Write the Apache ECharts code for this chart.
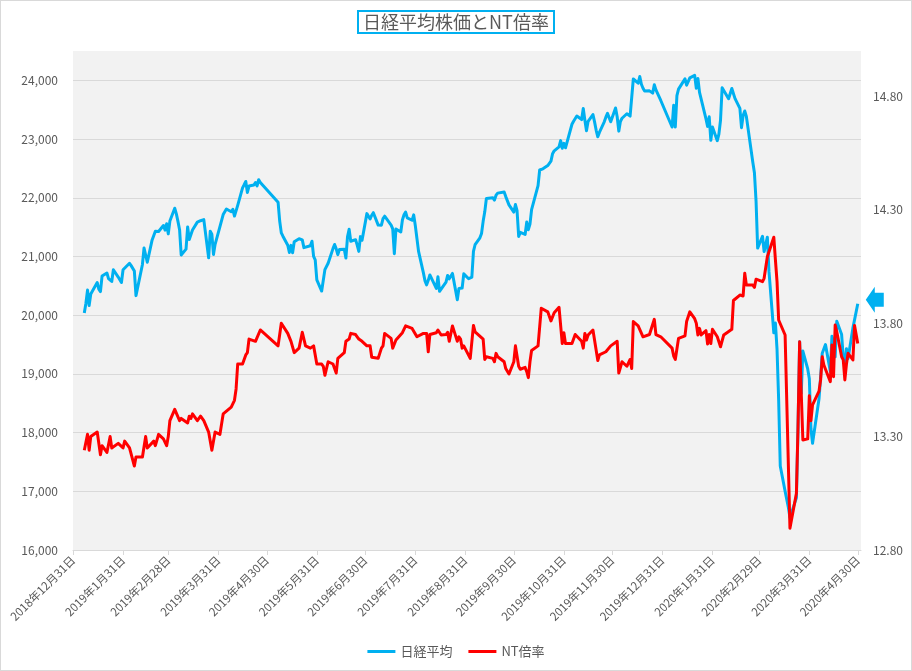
<!DOCTYPE html>
<html><head><meta charset="utf-8">
<script src="https://cdn.jsdelivr.net/npm/echarts@6/dist/echarts.min.js"></script>
<style>
html,body{margin:0;padding:0;background:#fff}
#c{width:912px;height:671px}
#frame{position:absolute;left:0;top:0;width:912px;height:671px;box-sizing:border-box;border:1px solid #d9d9d9;pointer-events:none}
</style>
</head><body><div id="c"></div><div id="frame"></div>
<script>
// ---- tick labels (month ends) ----
const tickDates = ['2018-12-31','2019-01-31','2019-02-28','2019-03-31','2019-04-30','2019-05-31','2019-06-30','2019-07-31','2019-08-31','2019-09-30','2019-10-31','2019-11-30','2019-12-31','2020-01-31','2020-02-29','2020-03-31','2020-04-30'];

// ---- 日経平均 ----
const nkDates = [
'2019-01-07','2019-01-08','2019-01-09','2019-01-10','2019-01-11','2019-01-15','2019-01-16','2019-01-17','2019-01-18','2019-01-21','2019-01-22','2019-01-23','2019-01-24','2019-01-25','2019-01-28','2019-01-29','2019-01-30','2019-01-31',
'2019-02-01','2019-02-04','2019-02-05','2019-02-06','2019-02-07','2019-02-08','2019-02-12','2019-02-13','2019-02-14','2019-02-15','2019-02-18','2019-02-19','2019-02-20','2019-02-21','2019-02-22','2019-02-25','2019-02-26','2019-02-27','2019-02-28',
'2019-03-01','2019-03-04','2019-03-05','2019-03-06','2019-03-07','2019-03-08','2019-03-11','2019-03-12','2019-03-13','2019-03-14','2019-03-15','2019-03-18','2019-03-19','2019-03-20','2019-03-22','2019-03-25','2019-03-26','2019-03-27','2019-03-28','2019-03-29',
'2019-04-01','2019-04-02','2019-04-03','2019-04-04','2019-04-05','2019-04-08','2019-04-09','2019-04-10','2019-04-11','2019-04-12','2019-04-15','2019-04-16','2019-04-17','2019-04-18','2019-04-19','2019-04-22','2019-04-23','2019-04-24','2019-04-25','2019-04-26',
'2019-05-07','2019-05-08','2019-05-09','2019-05-10','2019-05-13','2019-05-14','2019-05-15','2019-05-16','2019-05-17','2019-05-20','2019-05-21','2019-05-22','2019-05-23','2019-05-24','2019-05-27','2019-05-28','2019-05-29','2019-05-30','2019-05-31',
'2019-06-03','2019-06-04','2019-06-05','2019-06-06','2019-06-07','2019-06-10','2019-06-11','2019-06-12','2019-06-13','2019-06-14','2019-06-17','2019-06-18','2019-06-19','2019-06-20','2019-06-21','2019-06-24','2019-06-25','2019-06-26','2019-06-27','2019-06-28',
'2019-07-01','2019-07-02','2019-07-03','2019-07-04','2019-07-05','2019-07-08','2019-07-09','2019-07-10','2019-07-11','2019-07-12','2019-07-16','2019-07-17','2019-07-18','2019-07-19','2019-07-22','2019-07-23','2019-07-24','2019-07-25','2019-07-26','2019-07-29','2019-07-30','2019-07-31',
'2019-08-01','2019-08-02','2019-08-05','2019-08-06','2019-08-07','2019-08-08','2019-08-09','2019-08-13','2019-08-14','2019-08-15','2019-08-16','2019-08-19','2019-08-20','2019-08-21','2019-08-22','2019-08-23','2019-08-26','2019-08-27','2019-08-28','2019-08-29','2019-08-30',
'2019-09-02','2019-09-03','2019-09-04','2019-09-05','2019-09-06','2019-09-09','2019-09-10','2019-09-11','2019-09-12','2019-09-13','2019-09-17','2019-09-18','2019-09-19','2019-09-20','2019-09-24','2019-09-25','2019-09-26','2019-09-27','2019-09-30',
'2019-10-01','2019-10-02','2019-10-03','2019-10-04','2019-10-07','2019-10-08','2019-10-09','2019-10-10','2019-10-11','2019-10-15','2019-10-16','2019-10-17','2019-10-18','2019-10-21','2019-10-23','2019-10-24','2019-10-25','2019-10-28','2019-10-29','2019-10-30','2019-10-31',
'2019-11-01','2019-11-05','2019-11-06','2019-11-07','2019-11-08','2019-11-11','2019-11-12','2019-11-13','2019-11-14','2019-11-15','2019-11-18','2019-11-19','2019-11-20','2019-11-21','2019-11-22','2019-11-25','2019-11-26','2019-11-27','2019-11-28','2019-11-29',
'2019-12-02','2019-12-03','2019-12-04','2019-12-05','2019-12-06','2019-12-09','2019-12-10','2019-12-11','2019-12-12','2019-12-13','2019-12-16','2019-12-17','2019-12-18','2019-12-19','2019-12-20','2019-12-23','2019-12-24','2019-12-25','2019-12-26','2019-12-27','2019-12-30',
'2020-01-06','2020-01-07','2020-01-08','2020-01-09','2020-01-10','2020-01-14','2020-01-15','2020-01-16','2020-01-17','2020-01-20','2020-01-21','2020-01-22','2020-01-23','2020-01-24','2020-01-27','2020-01-28','2020-01-29','2020-01-30','2020-01-31',
'2020-02-03','2020-02-04','2020-02-05','2020-02-06','2020-02-07','2020-02-10','2020-02-12','2020-02-13','2020-02-14','2020-02-17','2020-02-18','2020-02-19','2020-02-20','2020-02-21','2020-02-25','2020-02-26','2020-02-27','2020-02-28',
'2020-03-02','2020-03-03','2020-03-04','2020-03-05','2020-03-06','2020-03-09','2020-03-10','2020-03-11','2020-03-12','2020-03-13','2020-03-16','2020-03-17','2020-03-18','2020-03-19','2020-03-23','2020-03-24','2020-03-25','2020-03-26','2020-03-27','2020-03-30','2020-03-31',
'2020-04-01','2020-04-02','2020-04-03','2020-04-06','2020-04-07','2020-04-08','2020-04-09','2020-04-10','2020-04-13','2020-04-14','2020-04-15','2020-04-16','2020-04-17','2020-04-20','2020-04-21','2020-04-22','2020-04-23','2020-04-24','2020-04-27','2020-04-28','2020-04-30'];
const nkValues = [
20039,20204,20427,20164,20360,20555,20443,20402,20666,20719,20623,20594,20575,20774,20649,20665,20557,20773,
20788,20884,20844,20874,20751,20333,20864,21144,21140,20901,21282,21303,21431,21464,21425,21528,21449,21557,21385,
21603,21822,21726,21597,21456,21026,21125,21504,21290,21287,21451,21585,21567,21609,21627,20977,21428,21378,21034,21206,
21509,21505,21713,21725,21808,21762,21803,21688,21711,21871,22169,22222,22278,22090,22200,22218,22260,22201,22308,22259,
21924,21603,21402,21345,21191,21067,21189,21063,21250,21302,21272,21283,21151,21117,21183,21260,21003,20943,20601,
20411,20409,20776,20774,20885,21134,21204,21130,21032,21117,21124,20973,21334,21463,21259,21286,21194,21087,21338,21276,
21730,21754,21638,21702,21746,21534,21565,21533,21644,21686,21535,21469,21046,21467,21417,21621,21710,21757,21658,21617,21709,21522,
21541,21087,20720,20585,20517,20593,20685,20455,20655,20406,20419,20563,20677,20619,20628,20711,20261,20456,20479,20461,20704,
20620,20625,20649,21086,21200,21318,21392,21598,21760,21988,22001,21961,22044,22079,22099,22020,22048,21879,21756,
21885,21779,21342,21410,21375,21588,21456,21552,21799,22207,22473,22452,22493,22549,22625,22751,22800,22867,22974,22843,22927,
22851,23252,23304,23330,23392,23332,23520,23320,23142,23303,23417,23293,23149,23039,23113,23293,23373,23438,23409,23294,
23530,23380,23135,23300,23354,23431,23410,23392,23425,24023,23952,24066,23934,23865,23817,23821,23831,23783,23925,23838,23657,
23205,23576,23205,23740,23851,24025,23917,23933,24041,24084,23865,24031,23795,23827,23344,23216,23379,22978,23205,
22972,23085,23320,23874,23828,23686,23861,23828,23688,23523,23194,23401,23479,23387,22605,22426,21948,21143,
21344,21083,21100,21329,20750,19699,19867,19416,18560,17431,17002,17012,16727,16553,16888,18092,19547,18665,19389,19085,18917,
18065,17819,17820,18576,18950,19353,19346,19499,19043,19639,19550,19290,19897,19669,19281,19138,19429,19262,19783,19771,20194];

// ---- NT倍率 ----
const ntDates = [
'2019-01-07','2019-01-09','2019-01-10','2019-01-11','2019-01-15','2019-01-17','2019-01-18','2019-01-21','2019-01-23','2019-01-24','2019-01-28','2019-01-31',
'2019-02-01','2019-02-04','2019-02-07','2019-02-08','2019-02-12','2019-02-14','2019-02-15','2019-02-19','2019-02-20','2019-02-22','2019-02-25','2019-02-27','2019-02-28',
'2019-03-01','2019-03-04','2019-03-07','2019-03-08','2019-03-12','2019-03-13','2019-03-14','2019-03-15','2019-03-18','2019-03-20','2019-03-22','2019-03-25','2019-03-27','2019-03-29',
'2019-04-01','2019-04-03','2019-04-08','2019-04-10','2019-04-11','2019-04-12','2019-04-15','2019-04-17','2019-04-18','2019-04-19','2019-04-23','2019-04-26',
'2019-05-07','2019-05-09','2019-05-13','2019-05-15','2019-05-17','2019-05-20','2019-05-22','2019-05-24','2019-05-27','2019-05-29','2019-05-31',
'2019-06-03','2019-06-04','2019-06-05','2019-06-07','2019-06-10','2019-06-12','2019-06-13','2019-06-17','2019-06-18','2019-06-20','2019-06-21','2019-06-24','2019-06-26','2019-06-28',
'2019-07-01','2019-07-03','2019-07-04','2019-07-05','2019-07-08','2019-07-09','2019-07-10','2019-07-11','2019-07-12','2019-07-16','2019-07-17','2019-07-19','2019-07-23','2019-07-25','2019-07-29','2019-07-30',
'2019-08-01','2019-08-05','2019-08-07','2019-08-08','2019-08-09','2019-08-13','2019-08-14','2019-08-16','2019-08-19','2019-08-20','2019-08-21','2019-08-23','2019-08-26','2019-08-27','2019-08-28','2019-08-29','2019-08-30',
'2019-09-03','2019-09-05','2019-09-06','2019-09-11','2019-09-12','2019-09-13','2019-09-17','2019-09-18','2019-09-19','2019-09-20','2019-09-24','2019-09-25','2019-09-27','2019-09-30',
'2019-10-01','2019-10-03','2019-10-04','2019-10-07','2019-10-08','2019-10-09','2019-10-10','2019-10-11','2019-10-15','2019-10-17','2019-10-21','2019-10-23','2019-10-25','2019-10-28','2019-10-30','2019-10-31',
'2019-11-01','2019-11-05','2019-11-07','2019-11-11','2019-11-12','2019-11-13','2019-11-14','2019-11-15','2019-11-18','2019-11-21','2019-11-22','2019-11-26','2019-11-29',
'2019-12-03','2019-12-04','2019-12-06','2019-12-09','2019-12-11','2019-12-12','2019-12-13','2019-12-16','2019-12-19','2019-12-23','2019-12-26','2019-12-27','2019-12-30',
'2020-01-06','2020-01-07','2020-01-08','2020-01-10','2020-01-14','2020-01-15','2020-01-17','2020-01-20','2020-01-21','2020-01-22','2020-01-23','2020-01-24','2020-01-27','2020-01-28','2020-01-29','2020-01-30','2020-01-31',
'2020-02-03','2020-02-05','2020-02-07','2020-02-12','2020-02-13','2020-02-17','2020-02-19','2020-02-20','2020-02-21','2020-02-25','2020-02-26','2020-02-27',
'2020-03-02','2020-03-03','2020-03-05','2020-03-09','2020-03-10','2020-03-11','2020-03-12','2020-03-16','2020-03-19','2020-03-23','2020-03-24','2020-03-25','2020-03-26','2020-03-27','2020-03-30','2020-03-31',
'2020-04-01','2020-04-02','2020-04-06','2020-04-07','2020-04-08','2020-04-09','2020-04-13','2020-04-14','2020-04-15','2020-04-16','2020-04-17','2020-04-20','2020-04-21','2020-04-22','2020-04-23','2020-04-24','2020-04-27','2020-04-28','2020-04-30'];
const ntValues = [
13.24,13.31,13.24,13.30,13.32,13.22,13.26,13.23,13.30,13.25,13.27,13.25,
13.28,13.25,13.17,13.21,13.21,13.30,13.25,13.28,13.26,13.31,13.29,13.26,13.30,
13.37,13.42,13.37,13.38,13.36,13.39,13.38,13.40,13.37,13.39,13.37,13.32,13.24,13.32,
13.31,13.40,13.43,13.46,13.51,13.62,13.62,13.66,13.67,13.73,13.72,13.77,
13.70,13.80,13.755,13.72,13.67,13.69,13.76,13.70,13.69,13.70,13.62,
13.62,13.61,13.57,13.63,13.62,13.58,13.645,13.67,13.72,13.73,13.755,13.75,13.73,13.72,
13.70,13.70,13.65,13.655,13.645,13.64,13.69,13.70,13.755,13.733,13.69,13.726,13.758,13.788,13.777,13.777,
13.74,13.755,13.755,13.674,13.75,13.758,13.77,13.748,13.75,13.76,13.72,13.788,13.72,13.74,13.73,13.69,13.70,
13.645,13.79,13.762,13.73,13.64,13.652,13.645,13.63,13.667,13.652,13.63,13.60,13.576,13.63,
13.70,13.61,13.597,13.605,13.586,13.56,13.63,13.68,13.70,13.866,13.85,13.81,13.846,13.87,13.71,13.758,
13.71,13.71,13.75,13.72,13.69,13.755,13.726,13.748,13.77,13.635,13.66,13.674,13.70,
13.72,13.58,13.63,13.61,13.64,13.60,13.807,13.788,13.74,13.75,13.817,13.75,13.74,
13.69,13.655,13.64,13.733,13.744,13.807,13.85,13.82,13.80,13.748,13.777,13.748,13.767,13.708,13.75,13.71,13.773,
13.74,13.696,13.748,13.773,13.90,13.924,13.92,14.02,13.968,13.968,13.958,13.994,
13.983,13.998,14.093,14.179,14.079,13.983,13.814,13.748,12.896,13.05,13.344,13.718,13.49,13.285,13.29,13.48,
13.37,13.44,13.50,13.55,13.652,13.616,13.542,13.704,13.564,13.792,13.762,13.652,13.638,13.55,13.62,13.667,13.638,13.79,13.71];

const FF = "'Noto Sans CJK JP', sans-serif";
function toTs(s){const p=s.split('-').map(Number);return new Date(p[0],p[1]-1,p[2]).getTime();}
const tickTs = tickDates.map(toTs);
const nkData = nkDates.map((d,i)=>[toTs(d), nkValues[i]]);
const ntData = ntDates.map((d,i)=>[toTs(d), ntValues[i]]);
const lastNk = nkData[nkData.length-1];

const chart = echarts.init(document.getElementById('c'), null, {renderer:'canvas'});
chart.setOption({
  animation:false,
  title:{text:'日経平均株価とNT倍率', left:'center', top:11, borderColor:'#00b0f0', borderWidth:2,
    padding:[2,5,2,5], backgroundColor:'#fff',
    textStyle:{fontSize:18, fontWeight:'normal', color:'#595959', fontFamily:FF}},
  legend:{top:640, left:'center', itemWidth:28, itemHeight:3, itemGap:16, icon:'rect',
    textStyle:{fontSize:13, color:'#595959', fontFamily:FF}, data:['日経平均','NT倍率']},
  grid:{left:73, right:51, top:51, bottom:121, show:true, backgroundColor:'#f2f2f2', borderWidth:0},
  xAxis:{type:'value', min:toTs('2018-12-31'), max:toTs('2020-05-02'),
    axisLine:{show:true, onZero:false, lineStyle:{color:'#d9d9d9'}},
    axisTick:{show:true, customValues:tickTs, length:5, lineStyle:{color:'#d9d9d9'}},
    axisLabel:{customValues:tickTs, rotate:45, margin:8, fontSize:11.5, color:'#595959', fontFamily:FF,
      showMinLabel:true, showMaxLabel:true,
      formatter:function(v){const d=new Date(v);return d.getFullYear()+'年'+(d.getMonth()+1)+'月'+d.getDate()+'日';}},
    splitLine:{show:false}},
  yAxis:[
    {type:'value', min:16000, max:24500, interval:1000, position:'left',
     axisLine:{show:false}, axisTick:{show:false},
     axisLabel:{showMaxLabel:false, margin:15, fontSize:12, color:'#595959', fontFamily:FF,
       formatter:function(v){return v.toLocaleString('en-US');}},
     splitLine:{show:true, showMaxLine:false, lineStyle:{color:'#d9d9d9', width:1}}},
    {type:'value', min:12.8, max:15.0, interval:0.5, position:'right',
     axisLine:{show:false}, axisTick:{show:false},
     axisLabel:{showMaxLabel:false, margin:12, fontSize:12, color:'#595959', fontFamily:FF,
       formatter:function(v){return v.toFixed(2);}},
     splitLine:{show:false}}
  ],
  series:[
    {name:'日経平均', type:'line', yAxisIndex:0, data:nkData, showSymbol:false, symbol:'none',
     color:'#00b0f0', lineStyle:{width:3, color:'#00b0f0', join:'round'},
     markPoint:{silent:true, symbol:'path://M0,13L9,0L9,6L18,6L18,20L9,20L9,26Z', symbolSize:[18,26],
       symbolOffset:[17,-4], itemStyle:{color:'#00b0f0'}, label:{show:false},
       data:[{coord:lastNk}]}},
    {name:'NT倍率', type:'line', yAxisIndex:1, data:ntData, showSymbol:false, symbol:'none',
     color:'#ff0000', lineStyle:{width:3, color:'#ff0000', join:'round'}}
  ]
});
</script></body></html>
